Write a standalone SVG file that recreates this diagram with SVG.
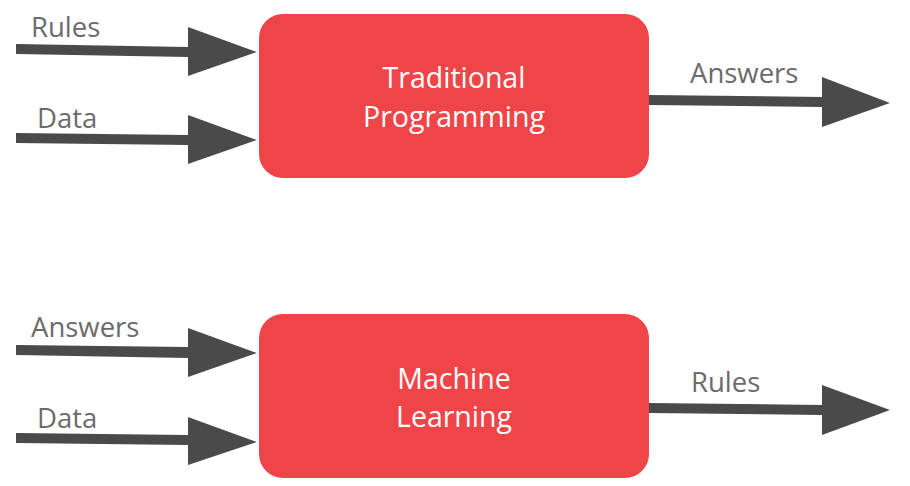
<svg xmlns="http://www.w3.org/2000/svg" width="910" height="486" viewBox="0 0 910 486">
<style>
.box{fill:#EF4548}
.arr{fill:#4A4A4A}
.lbl{font-family:"Open Sans","Liberation Sans",sans-serif;font-size:27.5px;fill:#6B6B6B}
.nt{font-family:"Open Sans","Liberation Sans",sans-serif;font-size:28.5px;fill:#FFFFFF;text-anchor:middle}
</style>
<rect width="910" height="486" fill="#FFFFFF"/>
<g id="connectors">
<g id="rules-in-1"><polygon class="arr" points="16,44 188,47 188,27 257,52 188,76 188,57 16,54"/><text class="lbl" x="31" y="37">Rules</text></g>
<g id="data-in-1"><polygon class="arr" points="16,133 188,135 188,115 257,140 188,164 188,145 16,143"/><text class="lbl" x="37" y="128">Data</text></g>
<g id="answers-out-1"><polygon class="arr" points="649,95 822,97 822,77 890,103 822,127 822,107 649,105"/><text class="lbl" x="690" y="83">Answers</text></g>
<g id="answers-in-2"><polygon class="arr" points="16,345 188,347 188,328 257,353 188,377 188,358 16,355"/><text class="lbl" x="31" y="337">Answers</text></g>
<g id="data-in-2"><polygon class="arr" points="16,433 188,435 188,417 257,442 188,465 188,445 16,443"/><text class="lbl" x="37" y="428">Data</text></g>
<g id="rules-out-2"><polygon class="arr" points="649,403 822,405 822,385 890,410 822,435 822,415 649,413"/><text class="lbl" x="691" y="392">Rules</text></g>
</g>
<g id="traditional-programming">
<rect class="box" x="259" y="14" width="390" height="164" rx="24"/>
<text class="nt" x="454" y="88">Traditional</text>
<text class="nt" x="454" y="127">Programming</text>
</g>
<g id="machine-learning">
<rect class="box" x="259" y="314" width="390" height="164" rx="24"/>
<text class="nt" x="454" y="389">Machine</text>
<text class="nt" x="454" y="427">Learning</text>
</g>
</svg>
